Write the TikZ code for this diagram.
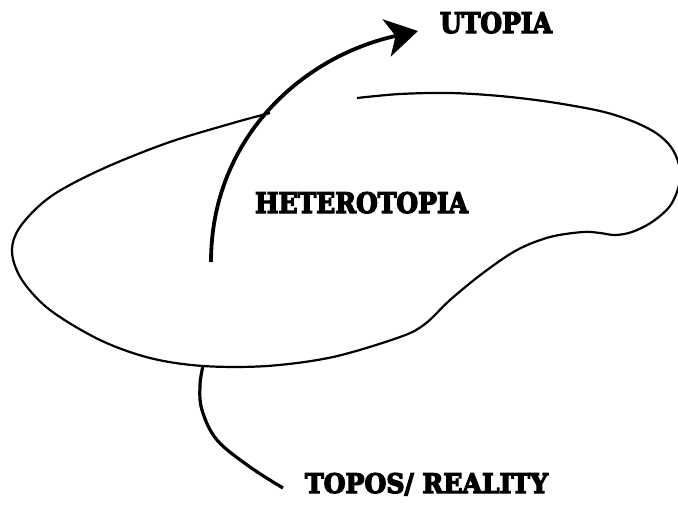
\documentclass[tikz,border=0pt]{standalone}
\usepackage{fontspec}
\newfontfamily\stencilfont{DejaVu Serif}[BoldFont={DejaVu Serif Condensed Bold}]
\usetikzlibrary{arrows.meta}
\newcommand{\heavytext}[1]{\special{pdf:literal direct 2 Tr 0.45 w}#1\special{pdf:literal direct 0 Tr}}
\tikzset{
  lbl/.style={inner sep=0pt, anchor=base, font=\stencilfont\bfseries},
  blobline/.style={line width=2.2pt, line join=round},
  bigarrow/.style={line width=3.8pt, -{Stealth[length=32pt,width=38pt,inset=9pt]}},
  rootline/.style={line width=3.2pt, line cap=butt}
}
\begin{document}
\begin{tikzpicture}[x=1pt,y=-1pt]
\useasboundingbox (0,0) rectangle (678,512);
% labels
\node[lbl] (utopia) at (496,33) {\resizebox{112pt}{21pt}{\heavytext{UTOPIA}}};
\node[lbl] (hetero) at (361.5,213) {\resizebox{213pt}{21pt}{\heavytext{HETEROTOPIA}}};
\node[lbl] (topos) at (426.5,493) {\resizebox{243pt}{20pt}{\heavytext{TOPOS/ REALITY}}};
% named coordinates
\coordinate (blobstart) at (357,98);
\coordinate (blobend) at (270,113);
\coordinate (blobbottom) at (203,366);
\coordinate (arrowstart) at (211,262);
\coordinate (arrowtip) at (418,31);
\coordinate (rootend) at (283,488);
% heterotopia blob
\draw[blobline] plot[smooth, tension=0.55] coordinates {
 (blobstart) (400,94) (450,93) (500,96) (550,102) (600,111) (632,121) (656,133)
 (671,147) (679,165) (679,185) (670,206) (652,222) (632,232) (615,235)
 (600,233) (583,232) (550,237) (517,250) (483,273) (450,300) (425,324)
 (400,337) (333,357) (267,366) (blobbottom) (150,358) (100,340) (50,310)
 (22,280) (12,252) (20,227) (50,197) (100,170) (167,143) (233,123) (blobend)};
% arrow to utopia
\draw[bigarrow] (arrowstart) .. controls (211,140) and (300,57) .. (arrowtip);
% root to topos
\draw[rootline] plot[smooth, tension=0.6] coordinates {
 (blobbottom) (200,385) (202,410) (217,440) (250,467) (rootend)};
\end{tikzpicture}
\end{document}
